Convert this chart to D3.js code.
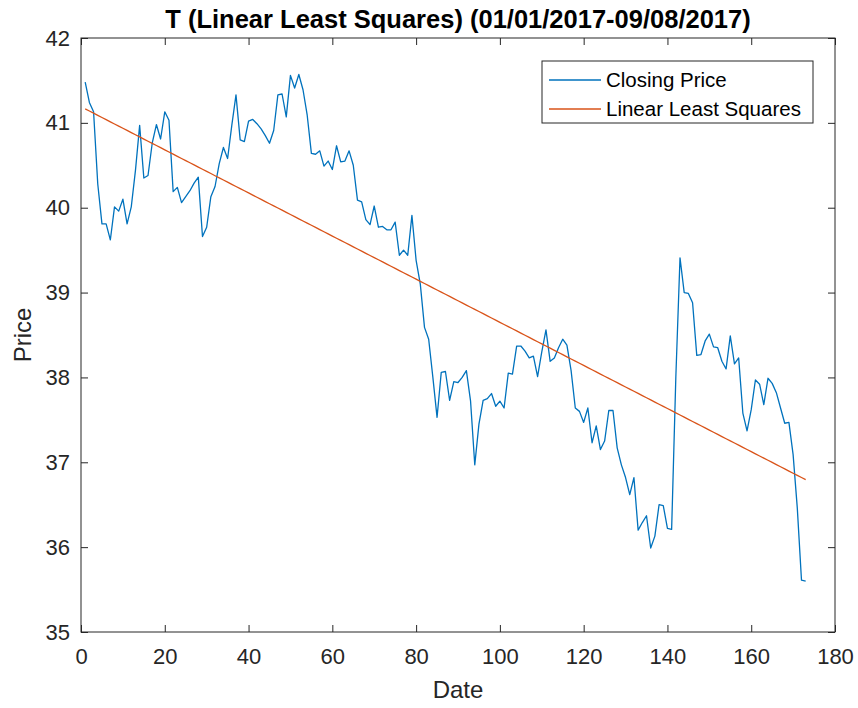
<!DOCTYPE html>
<html>
<head>
<meta charset="utf-8">
<script src="https://cdn.jsdelivr.net/npm/d3@7"></script>
<style>
    body { margin: 0; background: #fff; }
    svg text { font-family: "Liberation Sans", Arial, Helvetica, sans-serif; fill: #262626; }
    .tick line { stroke: #262626; }
</style>
</head>
<body>
<div id="chart"></div>
<script>
// closing prices of T, one per trading day (01/01/2017 - 09/08/2017)
var closePrices = [
    41.48, 41.24, 41.13, 40.28, 39.81, 39.81, 39.62, 40.01, 39.96, 40.10,
    39.81, 40.01, 40.44, 40.97, 40.35, 40.38, 40.76, 40.98, 40.81, 41.13,
    41.03, 40.19, 40.24, 40.06, 40.13, 40.20, 40.29, 40.36, 39.66, 39.77,
    40.13, 40.25, 40.52, 40.71, 40.58, 40.97, 41.33, 40.80, 40.78, 41.02,
    41.04, 40.99, 40.93, 40.85, 40.76, 40.91, 41.33, 41.34, 41.07, 41.56,
    41.41, 41.57, 41.39, 41.09, 40.64, 40.63, 40.67, 40.49, 40.55, 40.45,
    40.73, 40.54, 40.55, 40.67, 40.50, 40.09, 40.07, 39.86, 39.80, 40.02,
    39.77, 39.78, 39.74, 39.74, 39.83, 39.44, 39.50, 39.44, 39.91, 39.38,
    39.10, 38.59, 38.45, 38.00, 37.53, 38.06, 38.07, 37.73, 37.95, 37.94,
    38.00, 38.08, 37.72, 36.97, 37.45, 37.73, 37.75, 37.81, 37.66, 37.72,
    37.64, 38.05, 38.04, 38.37, 38.37, 38.31, 38.23, 38.25, 38.01, 38.30,
    38.56, 38.19, 38.23, 38.35, 38.45, 38.38, 38.08, 37.64, 37.60, 37.47,
    37.64, 37.23, 37.43, 37.15, 37.25, 37.61, 37.61, 37.17, 36.97, 36.82,
    36.62, 36.82, 36.20, 36.29, 36.37, 35.99, 36.13, 36.50, 36.49, 36.22,
    36.21, 38.00, 39.41, 39.00, 38.99, 38.88, 38.26, 38.27, 38.43, 38.51,
    38.36, 38.35, 38.19, 38.10, 38.49, 38.16, 38.23, 37.58, 37.37, 37.62,
    37.97, 37.92, 37.68, 37.99, 37.93, 37.82, 37.64, 37.46, 37.47, 37.09,
    36.46, 35.61, 35.60
];

var xTicks = [0, 20, 40, 60, 80, 100, 120, 140, 160, 180];
var yTicks = [35, 36, 37, 38, 39, 40, 41, 42];
var seriesNames = ["Closing Price", "Linear Least Squares"];
var seriesColors = ["#0072BD", "#D95319"];

var titleText = "T (Linear Least Squares) (01/01/2017-09/08/2017)";

// day index starts at 1
var values = closePrices.map(function (p, i) {
    return {x: i + 1, y: p};
});

// ordinary least squares fit over the closing prices
function leastSquares(points) {
    var mx = d3.mean(points, function (d) { return d.x; });
    var my = d3.mean(points, function (d) { return d.y; });
    var sxy = 0, sxx = 0;
    points.forEach(function (d) {
        sxy += (d.x - mx) * (d.y - my);
        sxx += (d.x - mx) * (d.x - mx);
    });
    var slope = sxy / sxx;
    var intercept = my - slope * mx;
    return points.map(function (d) {
        return {x: d.x, y: intercept + slope * d.x};
    });
}
var fitValues = leastSquares(values);

var svgWidth = 858, svgHeight = 708;
var margin = {top: 38, right: 23, bottom: 76, left: 81};
var width = svgWidth - margin.left - margin.right;
var height = svgHeight - margin.top - margin.bottom;

var svg = d3.select("#chart")
    .append("svg")
    .attr("width", svgWidth)
    .attr("height", svgHeight);

var g = svg.append("g")
    .attr("transform", "translate(" + margin.left + "," + margin.top + ")");

var x = d3.scaleLinear().domain([0, 180]).range([0, width]);
var y = d3.scaleLinear().domain([35, 42]).range([height, 0]);

// X axis (ticks point inward)
var xAxis = g.append("g")
    .attr("transform", "translate(0," + height + ")")
    .call(d3.axisBottom(x).tickValues(xTicks).tickSizeInner(-7).tickSizeOuter(0).tickPadding(16));
xAxis.select(".domain").remove();
xAxis.selectAll("text").attr("font-size", "22px");

// top ticks, no labels
var xTop = g.append("g")
    .call(d3.axisTop(x).tickValues(xTicks).tickSizeInner(-7).tickSizeOuter(0).tickFormat(""));
xTop.select(".domain").remove();

// Y axis
var yAxis = g.append("g")
    .call(d3.axisLeft(y).tickValues(yTicks).tickFormat(d3.format("d"))
        .tickSizeInner(-7).tickSizeOuter(0).tickPadding(11));
yAxis.select(".domain").remove();
yAxis.selectAll("text").attr("font-size", "22px");

// right ticks, no labels
var yRight = g.append("g")
    .attr("transform", "translate(" + width + ",0)")
    .call(d3.axisRight(y).tickValues(yTicks).tickSizeInner(-7).tickSizeOuter(0).tickFormat(""));
yRight.select(".domain").remove();

// box
g.append("rect")
    .attr("width", width)
    .attr("height", height)
    .attr("fill", "none")
    .attr("stroke", "#262626")
    .attr("stroke-width", 1);

var line = d3.line()
    .x(function (d) { return x(d.x); })
    .y(function (d) { return y(d.y); });

// closing price
g.append("path")
    .datum(values)
    .attr("fill", "none")
    .attr("stroke", seriesColors[0])
    .attr("stroke-width", 1.3)
    .attr("stroke-linejoin", "round")
    .attr("d", line);

// least squares line
g.append("path")
    .datum(fitValues)
    .attr("fill", "none")
    .attr("stroke", seriesColors[1])
    .attr("stroke-width", 1.3)
    .attr("d", line);

// title
svg.append("text")
    .attr("x", margin.left + width / 2)
    .attr("y", 28)
    .attr("text-anchor", "middle")
    .attr("font-size", "25.5px")
    .attr("font-weight", "bold")
    .style("fill", "#000")
    .text(titleText);

// axis labels
svg.append("text")
    .attr("x", margin.left + width / 2)
    .attr("y", 698)
    .attr("text-anchor", "middle")
    .attr("font-size", "24px")
    .text("Date");

svg.append("text")
    .attr("transform", "translate(31," + (margin.top + height / 2) + ") rotate(-90)")
    .attr("text-anchor", "middle")
    .attr("font-size", "24px")
    .text("Price");

// legend
var legend = svg.append("g")
    .attr("transform", "translate(542,61)");

legend.append("rect")
    .attr("width", 271)
    .attr("height", 62)
    .attr("fill", "#fff")
    .attr("stroke", "#262626")
    .attr("stroke-width", 1);

seriesNames.forEach(function (name, i) {
    var rowY = 19 + i * 29;
    legend.append("line")
        .attr("x1", 7).attr("x2", 59)
        .attr("y1", rowY).attr("y2", rowY)
        .attr("stroke", seriesColors[i])
        .attr("stroke-width", 1.3);
    legend.append("text")
        .attr("x", 64)
        .attr("y", rowY + 7)
        .attr("font-size", "20.5px")
        .style("fill", "#000")
        .text(name);
});
</script>
</body>
</html>
